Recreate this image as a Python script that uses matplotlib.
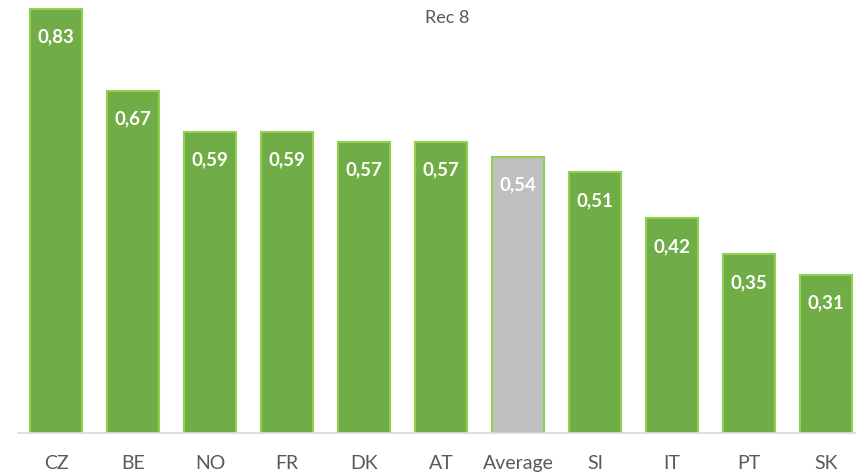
import matplotlib
matplotlib.use("Agg")
import matplotlib.pyplot as plt

categories = ["CZ", "BE", "NO", "FR", "DK", "AT", "Average", "SI", "IT", "PT", "SK"]
values = [0.83, 0.67, 0.59, 0.59, 0.57, 0.57, 0.54, 0.51, 0.42, 0.35, 0.31]
labels = ["0,83", "0,67", "0,59", "0,59", "0,57", "0,57", "0,54", "0,51", "0,42", "0,35", "0,31"]
title = "Rec 8"

plt.rcParams['font.family'] = ['Lato', 'DejaVu Sans']

W, H = 856, 473
fig = plt.figure(figsize=(W / 100, H / 100), dpi=100)
left = 17.5 / W
bottom = (H - 433) / H
ax = fig.add_axes([left, bottom, 847 / W, 433 / H])

colors = ["#BFBFBF" if c == "Average" else "#70AD47" for c in categories]
x = list(range(len(categories)))
ax.bar(x, values, width=0.675, color=colors, edgecolor="#92D050", linewidth=1.5, zorder=2)
ax.set_xlim(-0.5, 10.5)
ax.set_ylim(0, 433 / 511)

for xi, v, lab in zip(x, values, labels):
    ax.text(xi, v - 0.055, lab, ha="center", va="center", color="white",
            fontsize=13.5, fontweight="bold", zorder=3)

for s in ["top", "right", "left"]:
    ax.spines[s].set_visible(False)
ax.spines["bottom"].set_color("#D9D9D9")
ax.spines["bottom"].set_linewidth(1.2)
ax.set_yticks([])
ax.set_xticks(x)
ax.set_xticklabels(categories, fontsize=14, color="#595959")
ax.tick_params(axis="x", length=0, pad=16)

fig.text(447 / W, 1 - 18 / H, title, ha="center", va="center", fontsize=13, color="#595959")

fig.savefig("out.png", dpi=100)
